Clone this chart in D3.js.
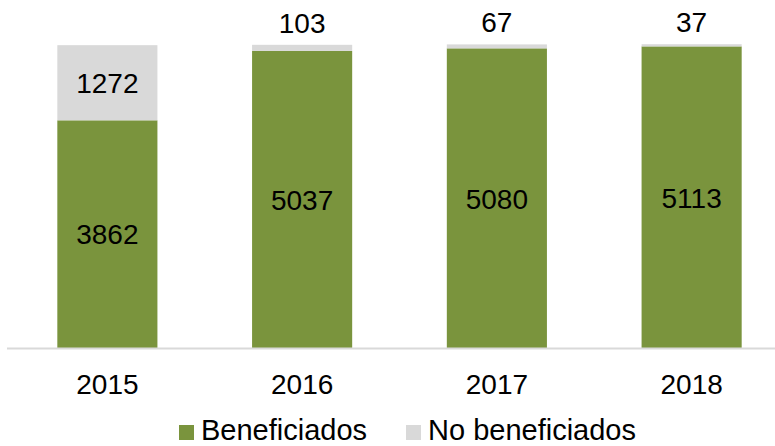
<!DOCTYPE html>
<html>
<head>
<meta charset="utf-8">
<script src="https://cdn.jsdelivr.net/npm/d3@7"></script>
<style>
  html, body { margin: 0; padding: 0; background: #fff; }
  svg { display: block; font-family: "Liberation Sans", Arial, sans-serif; }
</style>
</head>
<body>
<svg id="chart" width="775" height="446"></svg>
<script>
// Annual counts, split into beneficiaries and non-beneficiaries
const years = ["2015", "2016", "2017", "2018"];
const beneficiados = [3862, 5037, 5080, 5113];
const noBeneficiados = [1272, 103, 67, 37];
const seriesNames = ["Beneficiados", "No beneficiados"];
const seriesColors = ["#7a943d", "#d9d9d9"];

const svg = d3.select("#chart");
const W = 775;

const rows = years.map((y, i) => ({ year: y, Beneficiados: beneficiados[i], "No beneficiados": noBeneficiados[i] }));
const stacked = d3.stack().keys(seriesNames)(rows);

const x = d3.scaleBand().domain(years).range([10, 789]).paddingInner(0.486).paddingOuter(0.243);
const y = d3.scaleLinear().domain([0, 6000]).range([348.5, -6]);
const color = d3.scaleOrdinal().domain(seriesNames).range(seriesColors);

// stacked bars
const layer = svg.selectAll("g.layer").data(stacked).join("g")
  .attr("class", "layer")
  .attr("fill", d => color(d.key));

layer.selectAll("rect").data(d => d).join("rect")
  .attr("x", d => x(d.data.year))
  .attr("width", x.bandwidth())
  .attr("y", d => y(d[1]))
  .attr("height", d => y(d[0]) - y(d[1]));

// baseline axis
const axis = svg.append("g").attr("transform", `translate(0,${y(0)})`)
  .call(d3.axisBottom(x).tickSize(0).tickPadding(26));
axis.select(".domain").attr("stroke", "#d9d9d9").attr("stroke-width", 2)
  .attr("d", `M7,0H${W}`);
axis.selectAll("text").attr("font-size", 28).attr("fill", "#000")
  .attr("font-family", "Liberation Sans, Arial, sans-serif");

// value labels
const labelG = svg.append("g").attr("font-size", 28).attr("fill", "#000").attr("text-anchor", "middle");
stacked.forEach(s => {
  s.forEach(d => {
    const v = d[1] - d[0];
    const cx = x(d.data.year) + x.bandwidth() / 2;
    const h = y(d[0]) - y(d[1]);
    const cy = h > 40 ? (y(d[0]) + y(d[1])) / 2 : y(d[1]) - 22;
    labelG.append("text")
      .attr("x", cx).attr("y", cy)
      .attr("dy", "0.36em")
      .text(v);
  });
});

// legend
const legend = svg.append("g").attr("font-size", 29).attr("fill", "#000");
const legendX = [179, 406];
seriesNames.forEach((name, i) => {
  const g = legend.append("g").attr("transform", `translate(${legendX[i]},0)`);
  g.append("rect").attr("x", 0).attr("y", 425).attr("width", 15).attr("height", 15).attr("fill", color(name));
  g.append("text").attr("x", 22).attr("y", 440).text(name);
});
</script>
</body>
</html>
